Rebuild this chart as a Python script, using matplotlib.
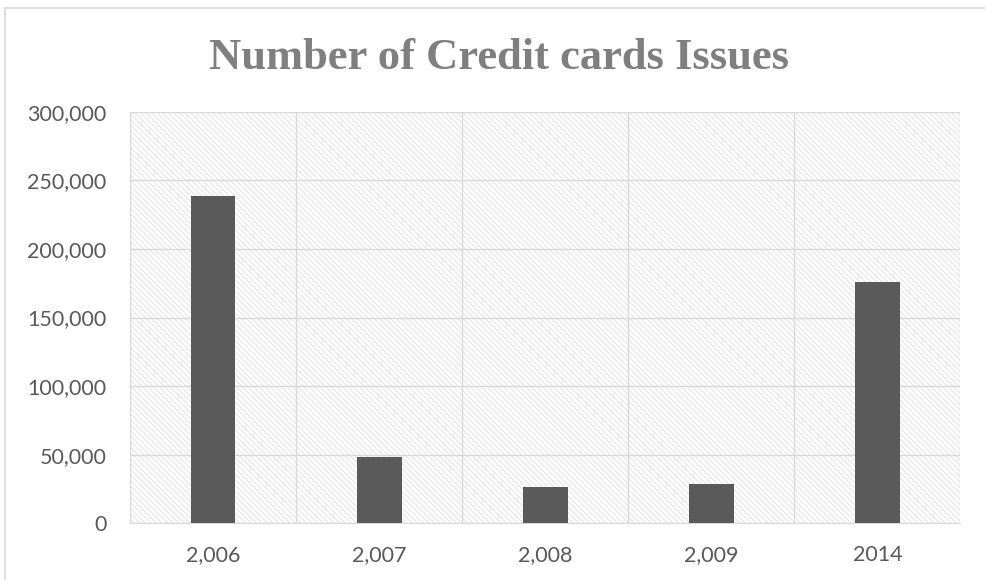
import matplotlib.pyplot as plt
from matplotlib.patches import Rectangle
from matplotlib.ticker import FuncFormatter, FixedLocator

years = ["2,006", "2,007", "2,008", "2,009", "2014"]
cards_issued = [239000, 48000, 26500, 28500, 176000]
y_ticks = [0, 50000, 100000, 150000, 200000, 250000, 300000]

bar_color = "#5a5a5a"
grid_color = "#d9d9d9"
text_color = "#595959"

plt.rcParams["hatch.linewidth"] = 0.6

fig = plt.figure(figsize=(9.85, 5.8), dpi=100)
ax = fig.add_axes([0.132, 0.098, 0.843, 0.709])

# outer chart frame
fig.patches.append(Rectangle((0.005, -0.01), 1.2, 0.996, transform=fig.transFigure,
                             fill=False, edgecolor="#d9d9d9", linewidth=1.2))

# hatched plot background
ax.add_patch(Rectangle((0, 0), 1, 1, transform=ax.transAxes, facecolor="white",
                       edgecolor="#dedede", hatch="\\\\\\\\\\\\", linewidth=0, zorder=0))

x = range(len(years))
ax.bar(x, cards_issued, width=0.27, color=bar_color, zorder=3)

ax.set_xlim(-0.5, len(years) - 0.5)
ax.set_ylim(0, 300000)
ax.set_yticks(y_ticks)
ax.yaxis.set_major_formatter(FuncFormatter(lambda v, _: f"{int(v):,}"))
ax.set_xticks(list(x))
ax.set_xticklabels(years)
ax.xaxis.set_minor_locator(FixedLocator([i + 0.5 for i in range(-1, len(years))]))

ax.grid(axis="y", which="major", color=grid_color, linewidth=1.0, zorder=1)
ax.grid(axis="x", which="minor", color=grid_color, linewidth=1.0, zorder=1)
ax.grid(axis="x", which="major", visible=False)
ax.tick_params(which="both", length=0)
ax.tick_params(axis="y", pad=17)
ax.tick_params(axis="x", pad=16)
for lbl in ax.get_xticklabels() + ax.get_yticklabels():
    lbl.set_fontfamily("Lato")
    lbl.set_fontsize(15.5)
    lbl.set_color(text_color)

for side in ["top", "right", "left"]:
    ax.spines[side].set_visible(False)
ax.spines["bottom"].set_color(grid_color)
ax.set_axisbelow(True)

fig.text(0.507, 0.900, "Number of Credit cards Issues", ha="center", va="center",
         fontsize=32, fontweight="bold", family="Liberation Serif", color="#7f7f7f")

fig.savefig("out.png", dpi=100)
